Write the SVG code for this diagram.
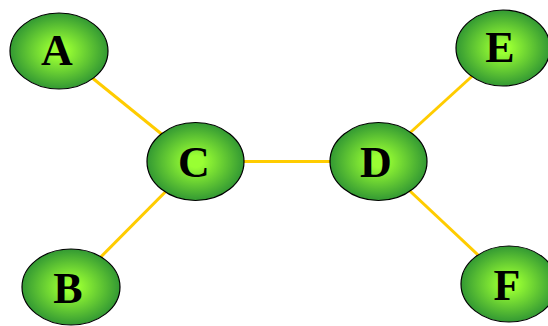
<svg xmlns="http://www.w3.org/2000/svg" width="548" height="326" viewBox="0 0 548 326">
<defs>
<radialGradient id="g" cx="50%" cy="50%" r="50%">
<stop offset="0" stop-color="#99FF33"/>
<stop offset="0.15" stop-color="#99FF33"/>
<stop offset="1" stop-color="#339933"/>
</radialGradient>
<style>
.n{fill:url(#g);stroke:#000;stroke-width:1.2}
.t{font-family:"Liberation Serif",serif;font-weight:bold;font-size:44px;fill:#000;text-anchor:middle}
.e{stroke:#FFCC00;stroke-width:3;fill:none}
</style>
</defs>
<rect width="548" height="326" fill="#fff"/>
<g id="edges">
<line class="e" x1="59" y1="51" x2="195.5" y2="161.5"/>
<line class="e" x1="71" y1="287" x2="195.5" y2="161.5"/>
<line class="e" x1="195.5" y1="161.5" x2="378.5" y2="161.5"/>
<line class="e" x1="378.5" y1="161.5" x2="503" y2="48"/>
<line class="e" x1="378.5" y1="161.5" x2="509" y2="284"/>
</g>
<g id="A"><ellipse class="n" cx="59" cy="51" rx="49" ry="38"/><text class="t" x="57" y="65">A</text></g>
<g id="B"><ellipse class="n" cx="71" cy="287" rx="49" ry="38"/><text class="t" x="68" y="303">B</text></g>
<g id="C"><ellipse class="n" cx="195.5" cy="161.5" rx="48.5" ry="39"/><text class="t" x="194" y="177">C</text></g>
<g id="D"><ellipse class="n" cx="378.5" cy="161.5" rx="48.5" ry="39"/><text class="t" x="376" y="177">D</text></g>
<g id="E"><ellipse class="n" cx="503" cy="48" rx="47" ry="38"/><text class="t" x="500" y="62">E</text></g>
<g id="F"><ellipse class="n" cx="509" cy="284" rx="48" ry="38"/><text class="t" x="507" y="300">F</text></g>
</svg>
